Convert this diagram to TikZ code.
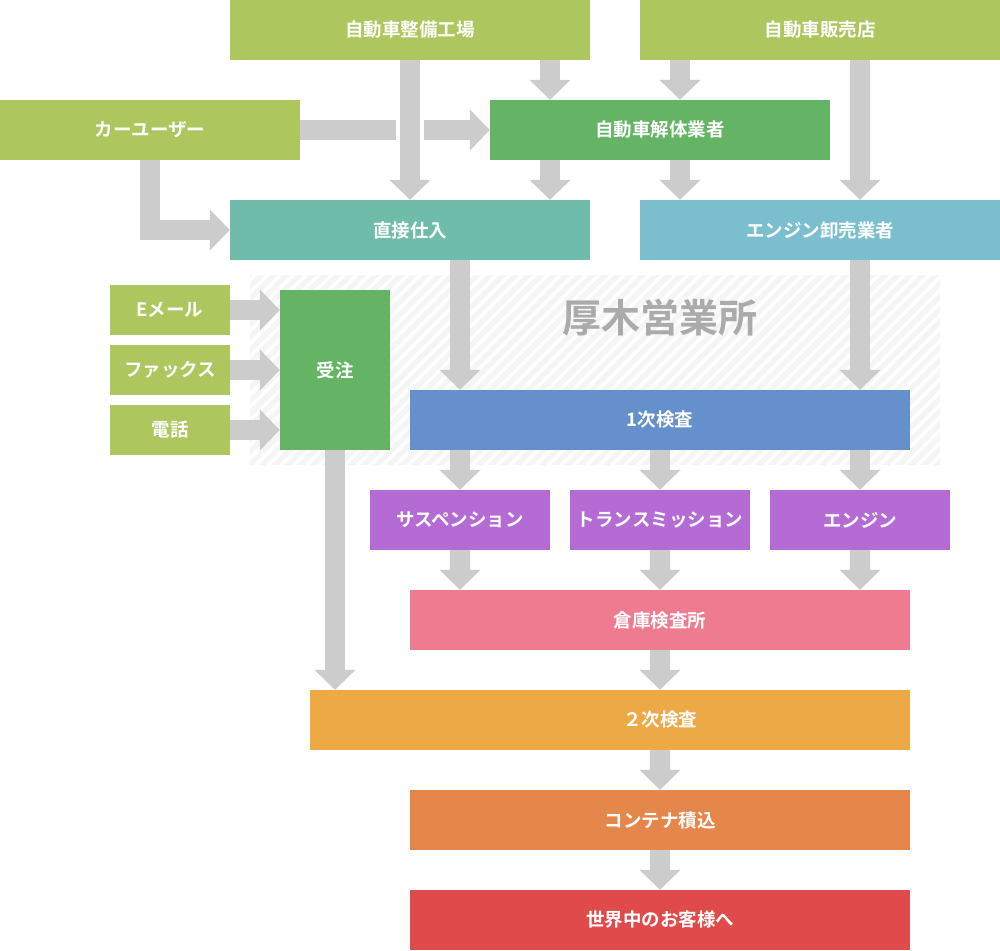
\documentclass[tikz,border=0pt]{standalone}
\usepackage{fontspec}
\newfontfamily\jp{Noto Sans CJK JP}[BoldFont={Noto Sans CJK JP Bold}]
\usetikzlibrary{arrows.meta,patterns.meta}

\definecolor{leaf}{HTML}{AEC65E}
\definecolor{grass}{HTML}{65B466}
\definecolor{teal}{HTML}{6EBCA9}
\definecolor{sky}{HTML}{7BBFCF}
\definecolor{steel}{HTML}{6590CC}
\definecolor{violet}{HTML}{B46BD3}
\definecolor{rose}{HTML}{EF7B90}
\definecolor{amber}{HTML}{EDA946}
\definecolor{tangerine}{HTML}{E5864A}
\definecolor{brick}{HTML}{E04A4A}
\definecolor{flowgray}{HTML}{CCCCCC}

\begin{document}
\begin{tikzpicture}[x=1pt,y=-1pt]
		\tikzset{box/.style = {shape=rectangle, inner sep=0pt, text=white, font=\jp\bfseries\fontsize{18.5}{22}\selectfont},
			flow/.style = {draw=flowgray, line width=20pt, -{Triangle[width=40pt,length=20pt]}},
			bar/.style = {draw=flowgray, line width=20pt}}

		\useasboundingbox (0,0) rectangle (1000,950);

		% 厚木営業所
		\fill[white!96!black] (250,275) rectangle (940,465);
		\fill[pattern={Lines[angle=45,distance=9pt,line width=3.5pt]}, pattern color=white] (250,275) rectangle (940,465);
		\node[font=\jp\bfseries\fontsize{39}{44}\selectfont, text=black!33] (office) at (660,318) {厚木営業所};

		\node[box, fill=leaf, minimum width=360pt, minimum height=60pt] (seibi) at (410,30) {自動車整備工場};
		\node[box, fill=leaf, minimum width=360pt, minimum height=60pt] (hanbai) at (820,30) {自動車販売店};
		\node[box, fill=leaf, minimum width=300pt, minimum height=60pt] (user) at (150,130) {カーユーザー};
		\node[box, fill=grass, minimum width=340pt, minimum height=60pt] (kaitai) at (660,130) {自動車解体業者};
		\node[box, fill=teal, minimum width=360pt, minimum height=60pt] (direct) at (410,230) {直接仕入};
		\node[box, fill=sky, minimum width=360pt, minimum height=60pt] (oroshi) at (820,230) {エンジン卸売業者};

		\node[box, fill=leaf, minimum width=120pt, minimum height=50pt] (mail) at (170,310) {Eメール};
		\node[box, fill=leaf, minimum width=120pt, minimum height=50pt] (fax) at (170,370) {ファックス};
		\node[box, fill=leaf, minimum width=120pt, minimum height=50pt] (phone) at (170,430) {電話};
		\node[box, fill=grass, minimum width=110pt, minimum height=160pt] (order) at (335,370) {受注};

		\node[box, fill=steel, minimum width=500pt, minimum height=60pt] (first) at (660,420) {1次検査};
		\node[box, fill=violet, minimum width=180pt, minimum height=60pt] (susp) at (460,520) {サスペンション};
		\node[box, fill=violet, minimum width=180pt, minimum height=60pt] (trans) at (660,520) {トランスミッション};
		\node[box, fill=violet, minimum width=180pt, minimum height=60pt] (engine) at (860,520) {エンジン};
		\node[box, fill=rose, minimum width=500pt, minimum height=60pt] (soko) at (660,620) {倉庫検査所};
		\node[box, fill=amber, minimum width=600pt, minimum height=60pt] (second) at (610,720) {\hspace*{100pt}２次検査};
		\node[box, fill=tangerine, minimum width=500pt, minimum height=60pt] (container) at (660,820) {コンテナ積込};
		\node[box, fill=brick, minimum width=500pt, minimum height=60pt] (world) at (660,920) {世界中のお客様へ};

		\coordinate (gapL) at (396,130);
		\coordinate (gapR) at (424,130);

		\draw[flow] (seibi.south) -- (direct.north);
		\draw[flow] (seibi.south -| 550,0) -- (kaitai.north -| 550,0);
		\draw[flow] (hanbai.south -| 680,0) -- (kaitai.north -| 680,0);
		\draw[flow] (hanbai.south -| 860,0) -- (oroshi.north -| 860,0);
		\draw[bar] (user.east) -- (gapL);
		\draw[flow] (gapR) -- (kaitai.west);
		\draw[flow] (user.south) -- (user.south |- direct.west) -- (direct.west);
		\draw[flow] (kaitai.south -| 550,0) -- (direct.north -| 550,0);
		\draw[flow] (kaitai.south -| 680,0) -- (oroshi.north -| 680,0);
		\draw[flow] (direct.south -| 460,0) -- (first.north -| 460,0);
		\draw[flow] (oroshi.south -| 860,0) -- (first.north -| 860,0);

		\draw[flow] (mail.east) -- (mail.east -| order.west);
		\draw[flow] (fax.east) -- (fax.east -| order.west);
		\draw[flow] (phone.east) -- (phone.east -| order.west);
		\draw[flow] (order.south) -- (second.north -| order.south);

		\draw[flow] (first.south -| susp.north) -- (susp.north);
		\draw[flow] (first.south -| trans.north) -- (trans.north);
		\draw[flow] (first.south -| engine.north) -- (engine.north);
		\draw[flow] (susp.south) -- (soko.north -| susp.south);
		\draw[flow] (trans.south) -- (soko.north -| trans.south);
		\draw[flow] (engine.south) -- (soko.north -| engine.south);
		\draw[flow] (soko.south) -- (second.north -| soko.south);
		\draw[flow] (second.south -| container.north) -- (container.north);
		\draw[flow] (container.south) -- (world.north);

	\end{tikzpicture}
\end{document}
